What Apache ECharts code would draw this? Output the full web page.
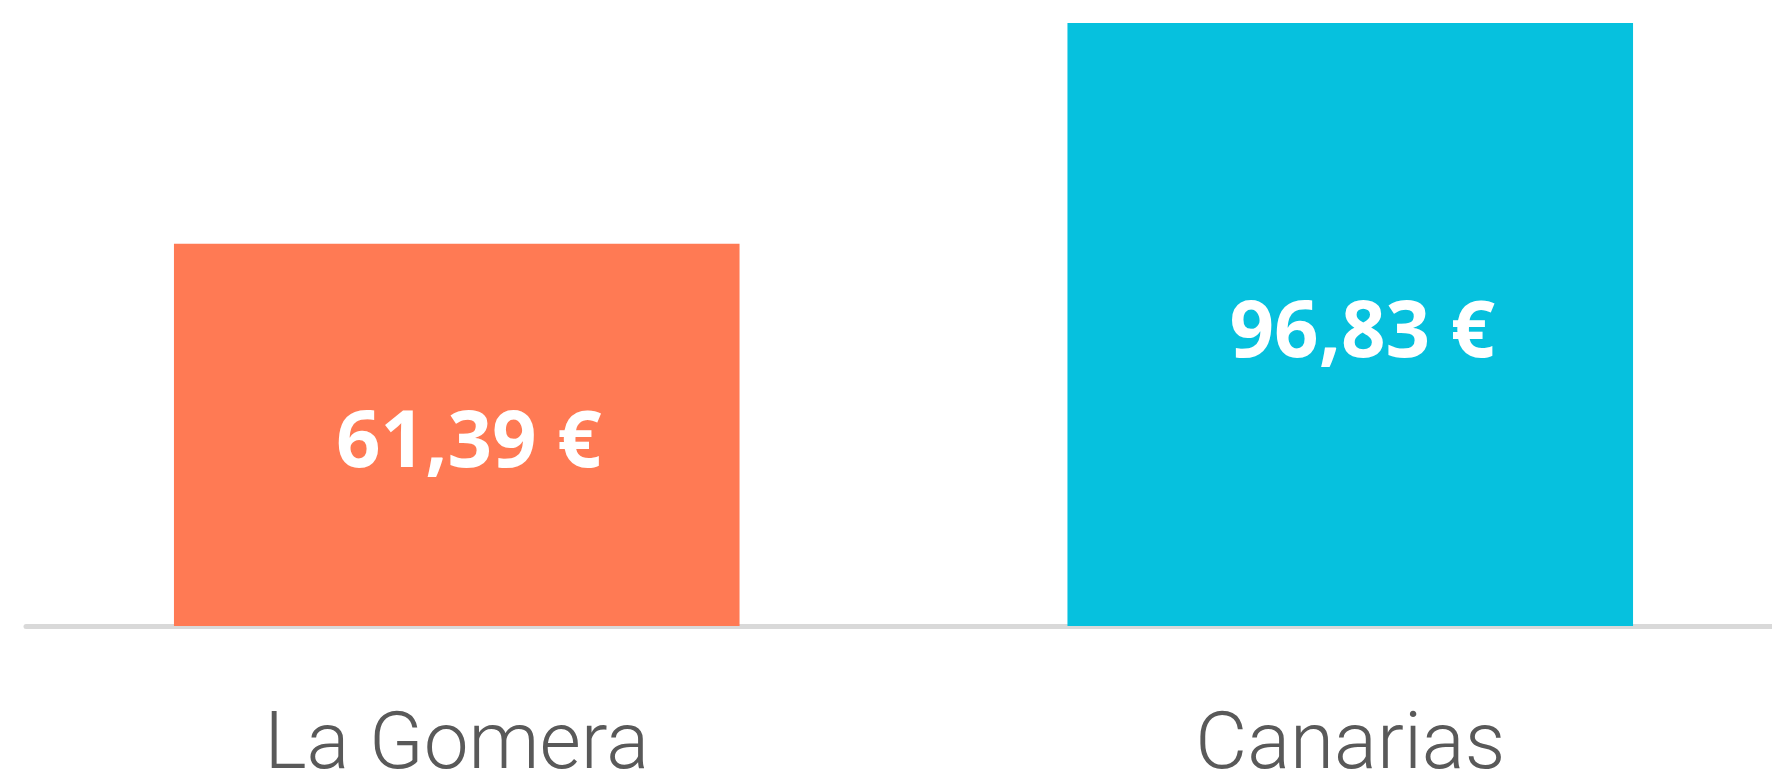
<!DOCTYPE html>
<html>
<head>
<meta charset="utf-8">
<script src="https://cdn.jsdelivr.net/npm/echarts@6/dist/echarts.min.js"></script>
<style>
html,body{margin:0;padding:0;background:#fff;}
#chart{width:1772px;height:773px;}
</style>
</head>
<body>
<div id="chart"></div>
<script>
const categories = ['La Gomera', 'Canarias'];
const values = [61.39, 96.83];
const barColors = ['#FF7A54', '#06C1DE'];

const chart = echarts.init(document.getElementById('chart'), null, {renderer: 'canvas'});
const fmt = v => v.toFixed(2).replace('.', ',') + ' €';

chart.setOption({
  animation: false,
  backgroundColor: '#ffffff',
  grid: [
    {left: 10, width: 1787, top: 23, bottom: 147, outerBoundsMode: 'none', containLabel: false},
    {left: 26, right: 0, top: 23, bottom: 147, outerBoundsMode: 'none', containLabel: false}
  ],
  xAxis: [
    {
      type: 'category',
      gridIndex: 0,
      data: categories,
      axisLine: {show: false},
      axisTick: {show: false},
      axisLabel: {
        margin: 82,
        fontFamily: 'Roboto',
        fontWeight: 300,
        fontSize: 80,
        color: '#595959'
      }
    },
    {
      type: 'category',
      gridIndex: 1,
      data: [''],
      offset: 3,
      axisLine: {show: true, lineStyle: {color: '#D9D9D9', width: 5}},
      axisTick: {show: false},
      axisLabel: {show: false}
    }
  ],
  yAxis: [
    {type: 'value', gridIndex: 0, min: 0, max: 96.83, show: false},
    {type: 'value', gridIndex: 1, min: 0, max: 96.83, show: false}
  ],
  series: [{
    type: 'bar',
    xAxisIndex: 0,
    yAxisIndex: 0,
    barWidth: '63.3%',
    data: values.map((v, i) => ({value: v, itemStyle: {color: barColors[i]}})),
    label: {
      show: true,
      position: 'inside',
      offset: [12, 10],
      formatter: p => fmt(p.value),
      fontFamily: 'Open Sans',
      fontWeight: 'bold',
      fontSize: 78,
      color: '#ffffff'
    }
  }]
});
</script>
</body>
</html>
